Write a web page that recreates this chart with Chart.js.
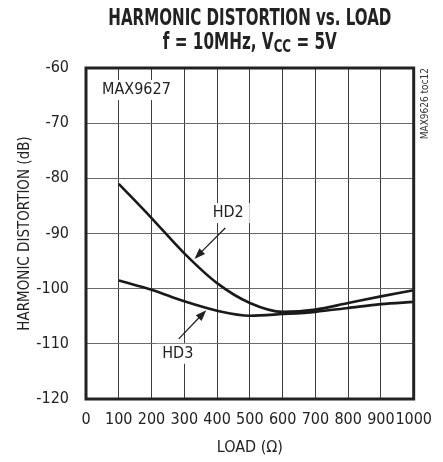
<!DOCTYPE html>
<html>
<head>
<meta charset="utf-8">
<script src="https://cdn.jsdelivr.net/npm/chart.js@4/dist/chart.umd.min.js"></script>
<style>
  html, body { margin: 0; padding: 0; background: #fff; }
  #wrap { width: 443px; height: 462px; }
</style>
</head>
<body>
<div id="wrap"><canvas id="chart" width="443" height="462"></canvas></div>
<script>
// values
const loads = [100, 200, 300, 400, 500, 600, 700, 800, 900, 1000];
const hd2 = [-81.0, -87.2, -93.6, -99.0, -102.6, -104.2, -103.8, -102.6, -101.4, -100.3];
const hd3 = [-98.5, -100.2, -102.3, -104.0, -104.9, -104.6, -104.2, -103.5, -102.8, -102.4];
const xTicks = [0, 100, 200, 300, 400, 500, 600, 700, 800, 900, 1000];
const yTicks = [-60, -70, -80, -90, -100, -110, -120];

const titleLine1 = 'HARMONIC DISTORTION vs. LOAD';
const xTitle = 'LOAD (\u03A9)';
const yTitle = 'HARMONIC DISTORTION (dB)';
const partLabel = 'MAX9627';
const tocLabel = 'MAX9626 toc12';

// curve labels with arrows, in data units
const curveNotes = [
    { text: 'HD2', at: [434, -86.3], from: [425, -89.0], to: [331, -94.6] },
    { text: 'HD3', at: [280, -111.8], from: [283, -109.1], to: [367, -103.9] }
];
const partAt = [154, -64.0];

const FONT = "'Liberation Sans Narrow', 'DejaVu Sans Condensed', 'Arial Narrow', sans-serif";

function fitText(ctx, text, x, y, width) {
    const w = ctx.measureText(text).width;
    ctx.save();
    ctx.translate(x, y);
    ctx.scale(width / w, 1);
    ctx.fillText(text, 0, 0);
    ctx.restore();
}

function arrow(ctx, x1, y1, x2, y2) {
    const ang = Math.atan2(y2 - y1, x2 - x1);
    const len = 11, half = 4;
    ctx.beginPath();
    ctx.moveTo(x1, y1);
    ctx.lineTo(x2 - Math.cos(ang) * len * 0.8, y2 - Math.sin(ang) * len * 0.8);
    ctx.stroke();
    ctx.beginPath();
    ctx.moveTo(x2, y2);
    ctx.lineTo(x2 - Math.cos(ang) * len - Math.sin(ang) * half, y2 - Math.sin(ang) * len + Math.cos(ang) * half);
    ctx.lineTo(x2 - Math.cos(ang) * len + Math.sin(ang) * half, y2 - Math.sin(ang) * len - Math.cos(ang) * half);
    ctx.closePath();
    ctx.fill();
}

function labelBox(ctx, chart, text, pos, font) {
    const x = chart.scales.x.getPixelForValue(pos[0]);
    const y = chart.scales.y.getPixelForValue(pos[1]);
    ctx.font = font;
    const w = ctx.measureText(text).width;
    return { x, y, w };
}

const decorPlugin = {
    id: 'decor',
    beforeDatasetsDraw(chart) {
        // white patches behind labels, hiding grid lines
        const ctx = chart.ctx;
        ctx.save();
        ctx.fillStyle = '#fff';
        const p = labelBox(ctx, chart, partLabel, partAt, '16px ' + FONT);
        ctx.fillRect(p.x - p.w / 2 - 3, p.y - 10, p.w + 6, 20);
        curveNotes.forEach(n => {
            const b = labelBox(ctx, chart, n.text, n.at, '16px ' + FONT);
            ctx.fillRect(b.x - b.w / 2 - 6, b.y - 10, b.w + 12, 20);
        });
        ctx.restore();
    },
    afterDatasetsDraw(chart) {
        const ctx = chart.ctx;
        const xs = chart.scales.x, ys = chart.scales.y;
        ctx.save();
        ctx.fillStyle = '#222';
        ctx.strokeStyle = '#222';
        ctx.lineWidth = 1.3;
        ctx.textAlign = 'center';
        ctx.textBaseline = 'middle';
        ctx.font = '16px ' + FONT;
        ctx.fillText(partLabel, xs.getPixelForValue(partAt[0]), ys.getPixelForValue(partAt[1]));
        curveNotes.forEach(n => {
            ctx.fillText(n.text, xs.getPixelForValue(n.at[0]), ys.getPixelForValue(n.at[1]));
            arrow(ctx,
                xs.getPixelForValue(n.from[0]), ys.getPixelForValue(n.from[1]),
                xs.getPixelForValue(n.to[0]), ys.getPixelForValue(n.to[1]));
        });
        ctx.restore();
    },
    afterDraw(chart) {
        const ctx = chart.ctx;
        const a = chart.chartArea;
        ctx.save();
        // heavy frame
        ctx.strokeStyle = '#222';
        ctx.lineWidth = 3;
        ctx.strokeRect(a.left, a.top, a.right - a.left, a.bottom - a.top);

        // title
        const cx = (a.left + a.right) / 2;
        ctx.fillStyle = '#222';
        ctx.textAlign = 'left';
        ctx.textBaseline = 'alphabetic';
        ctx.font = 'bold 23px ' + FONT;
        const w1 = 283;
        fitText(ctx, titleLine1, cx - w1 / 2, 25, w1);

        // second line with subscript
        const partA = 'f = 10MHz, V', partB = 'CC', partC = ' = 5V';
        ctx.font = 'bold 23px ' + FONT;
        const wa = ctx.measureText(partA).width, wc = ctx.measureText(partC).width;
        ctx.font = 'bold 18px ' + FONT;
        const wb = ctx.measureText(partB).width;
        const target = 174;
        const sx = target / (wa + wb + wc);
        ctx.save();
        ctx.translate(cx - target / 2, 49);
        ctx.scale(sx, 1);
        ctx.font = 'bold 23px ' + FONT;
        ctx.fillText(partA, 0, 0);
        ctx.font = 'bold 18px ' + FONT;
        ctx.fillText(partB, wa, 3);
        ctx.font = 'bold 23px ' + FONT;
        ctx.fillText(partC, wa + wb, 0);
        ctx.restore();

        // side reference text
        ctx.font = '10px ' + FONT;
        ctx.fillStyle = '#333';
        ctx.translate(a.right + 12, a.top);
        ctx.rotate(-Math.PI / 2);
        ctx.textAlign = 'right';
        ctx.textBaseline = 'middle';
        ctx.fillText(tocLabel, 0, 0);
        ctx.restore();
    }
};

const ctx = document.getElementById('chart').getContext('2d');
new Chart(ctx, {
    type: 'line',
    data: {
        labels: loads,
        datasets: [
            {
                label: 'HD2',
                data: loads.map((l, i) => ({ x: l, y: hd2[i] })),
                borderColor: '#1a1a1a',
                borderWidth: 2.6,
                pointRadius: 0,
                cubicInterpolationMode: 'monotone',
                fill: false
            },
            {
                label: 'HD3',
                data: loads.map((l, i) => ({ x: l, y: hd3[i] })),
                borderColor: '#1a1a1a',
                borderWidth: 2.6,
                pointRadius: 0,
                cubicInterpolationMode: 'monotone',
                fill: false
            }
        ]
    },
    options: {
        responsive: false,
        animation: false,
        devicePixelRatio: 1,
        layout: { padding: { top: 68, right: 25, left: 0, bottom: 0 } },
        plugins: {
            legend: { display: false },
            tooltip: { enabled: false },
            title: { display: false }
        },
        scales: {
            x: {
                type: 'linear',
                min: 0,
                max: 1000,
                afterFit: s => { s.height = 63; },
                afterBuildTicks: s => { s.ticks = xTicks.map(v => ({ value: v })); },
                grid: { color: '#3a3a3a', lineWidth: 1, drawTicks: false },
                border: { display: false },
                ticks: {
                    color: '#222',
                    padding: 11,
                    maxRotation: 0,
                    autoSkip: false,
                    callback: v => String(v),
                    font: { family: FONT, size: 16 }
                },
                title: {
                    display: true,
                    text: xTitle,
                    color: '#222',
                    padding: { top: 0, bottom: 5 },
                    font: { family: FONT, size: 16 }
                }
            },
            y: {
                type: 'linear',
                min: -120,
                max: -60,
                afterFit: s => { s.width = 86; },
                afterBuildTicks: s => { s.ticks = yTicks.map(v => ({ value: v })); },
                grid: { color: '#6a6a6a', lineWidth: 1, drawTicks: false },
                border: { display: false },
                ticks: {
                    color: '#222',
                    padding: 17,
                    autoSkip: false,
                    callback: v => String(v),
                    font: { family: FONT, size: 16 }
                },
                title: {
                    display: true,
                    text: yTitle,
                    color: '#222',
                    padding: { top: 16, bottom: 0 },
                    font: { family: FONT, size: 15 }
                }
            }
        }
    },
    plugins: [decorPlugin]
});
</script>
</body>
</html>
